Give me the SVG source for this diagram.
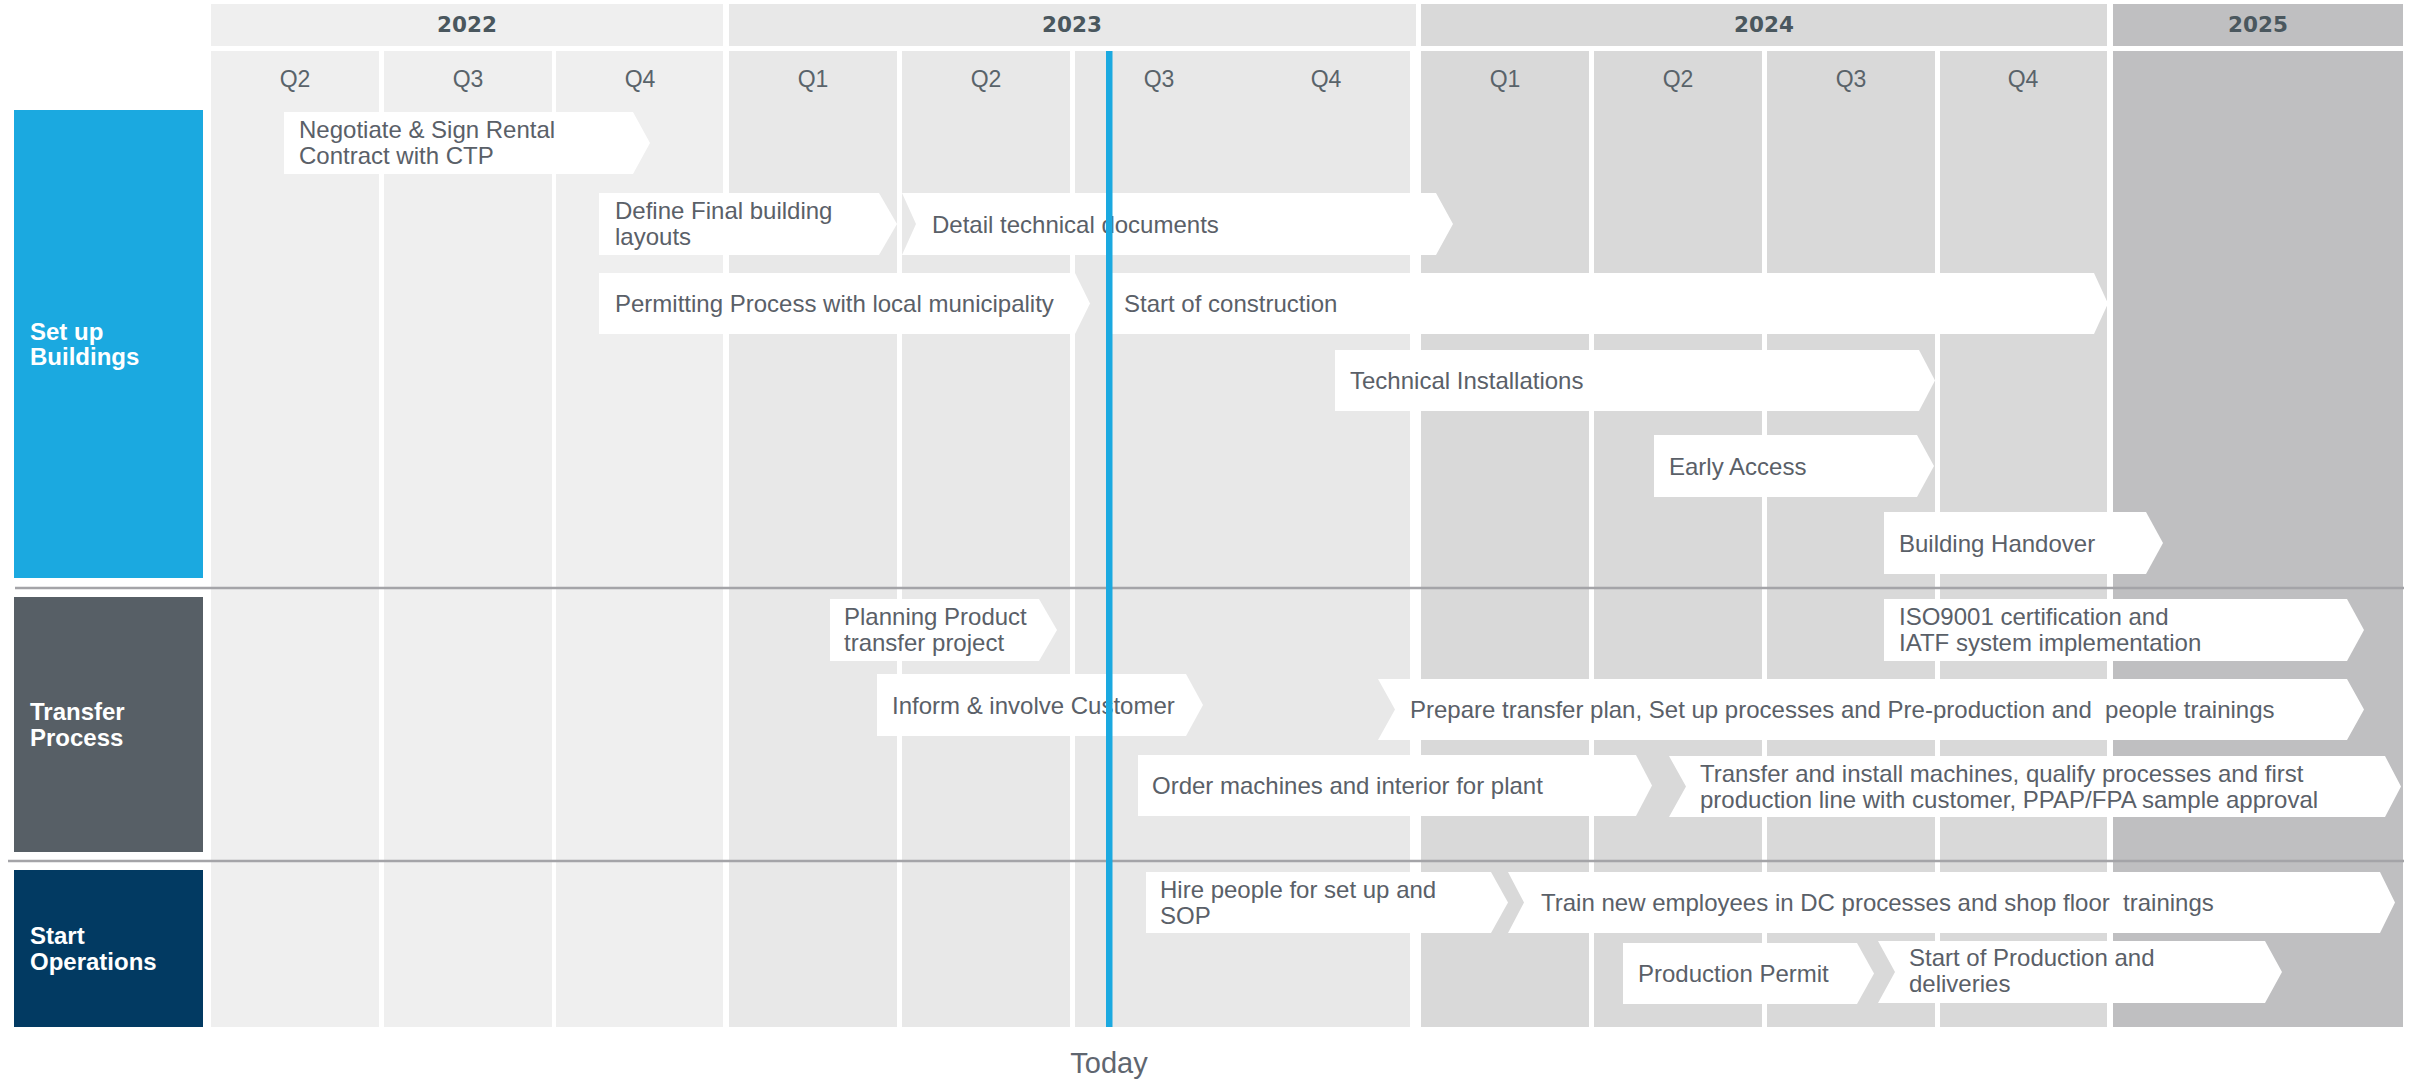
<svg xmlns="http://www.w3.org/2000/svg" width="2412" height="1081" viewBox="0 0 2412 1081">
<style>
.y22{fill:#efefef}.y23{fill:#e8e8e8}.y24{fill:#d9d9d9}.y25{fill:#bfbfc1}
.yr{font-family:"DejaVu Sans",sans-serif;font-weight:bold;font-size:21.5px;fill:#4a575e;text-anchor:middle}
.q{font-family:"Liberation Sans",Arial,sans-serif;font-size:23px;fill:#59636a;text-anchor:middle}
.task path{fill:#ffffff}
.task text{font-family:"Liberation Sans",Arial,sans-serif;font-size:24px;fill:#5a6068;white-space:pre}
.lane text{font-family:"Liberation Sans",Arial,sans-serif;font-weight:bold;font-size:24px;fill:#ffffff}
.sep{stroke:#a4a4a8;stroke-width:2.5}
</style>
<rect width="2412" height="1081" fill="#ffffff"/>
<g id="timeline">
<rect class="y22" x="211" y="4" width="512" height="42"/>
<rect class="y23" x="729" y="4" width="687" height="42"/>
<rect class="y24" x="1421" y="4" width="686" height="42"/>
<rect class="y25" x="2113" y="4" width="290" height="42"/>
<text class="yr" x="467" y="32">2022</text>
<text class="yr" x="1072" y="32">2023</text>
<text class="yr" x="1764" y="32">2024</text>
<text class="yr" x="2258" y="32">2025</text>
<rect class="y22" x="211" y="51" width="168" height="976"/>
<rect class="y22" x="384" y="51" width="168" height="976"/>
<rect class="y22" x="556" y="51" width="167" height="976"/>
<rect class="y23" x="729" y="51" width="168" height="976"/>
<rect class="y23" x="902" y="51" width="168" height="976"/>
<rect class="y23" x="1075" y="51" width="335" height="976"/>
<rect class="y24" x="1421" y="51" width="168" height="976"/>
<rect class="y24" x="1594" y="51" width="168" height="976"/>
<rect class="y24" x="1767" y="51" width="168" height="976"/>
<rect class="y24" x="1940" y="51" width="167" height="976"/>
<rect class="y25" x="2113" y="51" width="290" height="976"/>
<text class="q" x="295" y="87">Q2</text>
<text class="q" x="468" y="87">Q3</text>
<text class="q" x="640" y="87">Q4</text>
<text class="q" x="813" y="87">Q1</text>
<text class="q" x="986" y="87">Q2</text>
<text class="q" x="1159" y="87">Q3</text>
<text class="q" x="1326" y="87">Q4</text>
<text class="q" x="1505" y="87">Q1</text>
<text class="q" x="1678" y="87">Q2</text>
<text class="q" x="1851" y="87">Q3</text>
<text class="q" x="2023" y="87">Q4</text>
</g>
<g id="lanes" class="lane">
<g id="lane-buildings"><rect x="14" y="110" width="189" height="468" fill="#1ba9e0"/><text x="30" y="340">Set up</text><text x="30" y="365">Buildings</text></g>
<g id="lane-transfer"><rect x="14" y="597" width="189" height="255" fill="#575f66"/><text x="30" y="720">Transfer</text><text x="30" y="746">Process</text></g>
<g id="lane-operations"><rect x="14" y="870" width="189" height="157" fill="#023a62"/><text x="30" y="944">Start</text><text x="30" y="970">Operations</text></g>
</g>
<g id="separators">
<line class="sep" x1="15" y1="588" x2="2404" y2="588"/>
<line class="sep" x1="8" y1="861" x2="2404" y2="861"/>
</g>
<g id="tasks" class="task">
<g id="t1"><path d="M284,112 H633 L650,143 L633,174 H284 Z"/><text x="299" y="138">Negotiate &amp; Sign Rental</text><text x="299" y="164">Contract with CTP</text></g>
<g id="t2"><path d="M599,193 H879 L897,224 L879,255 H599 Z"/><text x="615" y="219">Define Final building</text><text x="615" y="245">layouts</text></g>
<g id="t3"><path d="M902,193 H1436 L1453,224 L1436,255 H902 L916,224 Z"/><text x="932" y="232.5">Detail technical documents</text></g>
<g id="t4"><path d="M599,273 H1075 L1090,303.5 L1075,334 H599 Z"/><text x="615" y="312">Permitting Process with local municipality</text></g>
<g id="t5"><path d="M1108,273 H2094 L2108,303.5 L2094,334 H1108 Z"/><text x="1124" y="312">Start of construction</text></g>
<g id="t6"><path d="M1335,350 H1919 L1935,380.5 L1919,411 H1335 Z"/><text x="1350" y="389">Technical Installations</text></g>
<g id="t7"><path d="M1654,435 H1917 L1934,466 L1917,497 H1654 Z"/><text x="1669" y="474.5">Early Access</text></g>
<g id="t8"><path d="M1884,512 H2146 L2163,543 L2146,574 H1884 Z"/><text x="1899" y="551.5">Building Handover</text></g>
<g id="t9"><path d="M830,599 H1039 L1057,630 L1039,661 H830 Z"/><text x="844" y="625">Planning Product</text><text x="844" y="651">transfer project</text></g>
<g id="t10"><path d="M877,674 H1186 L1203,705 L1186,736 H877 Z"/><text x="892" y="713.5">Inform &amp; involve Customer</text></g>
<g id="t11"><path d="M1884,599 H2347 L2364,630 L2347,661 H1884 Z"/><text x="1899" y="625">ISO9001 certification and</text><text x="1899" y="651">IATF system implementation</text></g>
<g id="t12"><path d="M1378,679 H2347 L2364,709.5 L2347,740 H1378 L1395,709.5 Z"/><text x="1410" y="718">Prepare transfer plan, Set up processes and Pre-production and  people trainings</text></g>
<g id="t13"><path d="M1138,755 H1636 L1652,785.5 L1636,816 H1138 Z"/><text x="1152" y="794">Order machines and interior for plant</text></g>
<g id="t14"><path d="M1669,756 H2385 L2401,786.5 L2385,817 H1669 L1686,786.5 Z"/><text x="1700" y="781.5">Transfer and install machines, qualify processes and first</text><text x="1700" y="807.5">production line with customer, PPAP/FPA sample approval</text></g>
<g id="t15"><path d="M1146,872 H1491 L1508,902.5 L1491,933 H1146 Z"/><text x="1160" y="897.5">Hire people for set up and</text><text x="1160" y="923.5">SOP</text></g>
<g id="t16"><path d="M1508,872 H2380 L2395,902.5 L2380,933 H1508 L1524,902.5 Z"/><text x="1541" y="911">Train new employees in DC processes and shop floor  trainings</text></g>
<g id="t17"><path d="M1623,943 H1857 L1874,973.5 L1857,1004 H1623 Z"/><text x="1638" y="982">Production Permit</text></g>
<g id="t18"><path d="M1878,941 H2265 L2282,972 L2265,1003 H1878 L1895,972 Z"/><text x="1909" y="966">Start of Production and</text><text x="1909" y="992">deliveries</text></g>
</g>
<g id="today">
<rect x="1106" y="51" width="6.5" height="976" fill="#1ba9e0"/>
<text x="1109" y="1073" font-family="Liberation Sans, Arial, sans-serif" font-size="29" fill="#5f6670" text-anchor="middle">Today</text>
</g>
</svg>
